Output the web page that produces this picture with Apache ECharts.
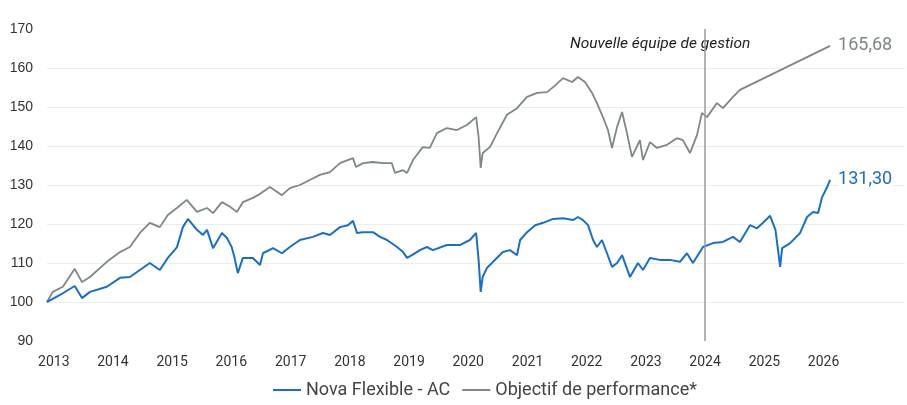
<!DOCTYPE html>
<html>
<head>
<meta charset="utf-8">
<script src="https://cdn.jsdelivr.net/npm/echarts@6/dist/echarts.min.js"></script>
<style>
    html, body { margin: 0; padding: 0; background: #fff; }
    #chart { width: 907px; height: 405px; }
</style>
</head>
<body>
<div id="chart"></div>
<script>
// Nova Flexible - AC (base 100)
const novaDates = [
    '2012-11-20', '2013-02-08', '2013-05-10', '2013-06-24', '2013-08-12', '2013-11-24',
    '2014-02-13', '2014-04-15', '2014-06-16', '2014-08-16', '2014-10-17', '2014-12-05',
    '2015-01-30', '2015-03-08', '2015-04-08', '2015-06-03', '2015-07-10', '2015-08-04',
    '2015-09-10', '2015-11-04', '2015-12-05', '2016-01-04', '2016-01-20', '2016-02-10',
    '2016-03-12', '2016-05-13', '2016-06-26', '2016-07-14', '2016-09-14', '2016-11-08',
    '2016-12-27', '2017-02-27', '2017-05-18', '2017-07-19', '2017-08-31', '2017-11-01',
    '2017-12-20', '2018-01-20', '2018-02-14', '2018-03-23', '2018-05-24', '2018-07-06',
    '2018-08-18', '2018-10-19', '2018-11-25', '2018-12-20', '2019-01-19', '2019-03-09',
    '2019-04-21', '2019-05-28', '2019-08-22', '2019-11-10', '2020-01-11', '2020-02-19',
    '2020-03-05', '2020-03-18', '2020-03-30', '2020-04-25', '2020-06-02', '2020-08-02',
    '2020-09-15', '2020-10-28', '2020-11-16', '2020-12-29', '2021-02-17', '2021-04-07',
    '2021-06-08', '2021-08-08', '2021-10-09', '2021-11-08', '2021-12-09', '2022-01-09',
    '2022-02-09', '2022-03-05', '2022-04-05', '2022-05-06', '2022-06-06', '2022-07-07',
    '2022-08-07', '2022-09-25', '2022-11-13', '2022-12-14', '2023-01-26', '2023-03-28',
    '2023-05-29', '2023-07-30', '2023-09-11', '2023-10-18', '2023-12-19', '2024-02-19',
    '2024-04-20', '2024-06-21', '2024-08-03', '2024-10-04', '2024-11-16', '2024-12-23',
    '2025-02-05', '2025-03-10', '2025-04-08', '2025-04-20', '2025-06-09', '2025-08-09',
    '2025-09-21', '2025-10-28', '2025-11-28', '2025-12-23', '2026-01-23', '2026-02-10'
];
const novaValues = [
    100, 101.8, 104.1, 101, 102.6, 103.9,
    106.2, 106.4, 108.2, 110, 108.2, 111.3,
    114, 119.2, 121.3, 118.5, 117.2, 118.5,
    113.8, 117.7, 116.4, 114, 111.5, 107.4,
    111.3, 111.3, 109.5, 112.5, 113.8, 112.5,
    114.1, 115.9, 116.7, 117.7, 117.2, 119.2,
    119.7, 120.8, 117.7, 117.9, 117.9, 116.7,
    115.9, 114.1, 112.8, 111.3, 112, 113.3,
    114.1, 113.3, 114.6, 114.6, 115.9, 117.7,
    110.8, 102.6, 106.4, 108.7, 110.3, 112.8,
    113.3, 112, 115.9, 117.9, 119.7, 120.3,
    121.3, 121.5, 121, 121.8, 121, 119.7,
    115.9, 114.1, 115.9, 112.5, 109, 110,
    112, 106.4, 110, 108.2, 111.3, 110.8,
    110.8, 110.3, 112.5, 110, 114.1, 115.1,
    115.4, 116.7, 115.4, 119.7, 118.9, 120.3,
    122.1, 118.5, 109, 113.8, 115.1, 117.7,
    121.8, 123.1, 122.8, 126.9, 129.5, 131.3
];

// Objectif de performance* (base 100)
const objDates = [
    '2012-11-20', '2012-12-25', '2013-02-26', '2013-05-10', '2013-06-24', '2013-08-12',
    '2013-11-24', '2014-02-13', '2014-04-15', '2014-06-16', '2014-08-16', '2014-10-17',
    '2014-12-05', '2015-01-30', '2015-04-01', '2015-06-03', '2015-08-04', '2015-09-10',
    '2015-11-04', '2015-12-22', '2016-02-04', '2016-03-12', '2016-05-13', '2016-06-13',
    '2016-08-26', '2016-11-08', '2016-12-27', '2017-02-27', '2017-04-29', '2017-06-30',
    '2017-08-31', '2017-11-01', '2018-01-20', '2018-02-08', '2018-03-23', '2018-05-24',
    '2018-07-24', '2018-09-17', '2018-10-06', '2018-11-25', '2018-12-20', '2019-01-25',
    '2019-03-27', '2019-05-09', '2019-06-22', '2019-08-22', '2019-10-23', '2019-12-24',
    '2020-02-19', '2020-03-05', '2020-03-18', '2020-03-30', '2020-05-14', '2020-06-27',
    '2020-08-27', '2020-10-28', '2020-12-29', '2021-03-01', '2021-05-01', '2021-06-08',
    '2021-08-08', '2021-10-03', '2021-11-08', '2021-12-21', '2022-02-03', '2022-03-05',
    '2022-04-11', '2022-05-12', '2022-06-06', '2022-07-07', '2022-08-07', '2022-09-06',
    '2022-10-07', '2022-11-25', '2022-12-14', '2023-01-26', '2023-03-10', '2023-05-11',
    '2023-07-11', '2023-08-17', '2023-09-30', '2023-11-12', '2023-12-13', '2024-01-13',
    '2024-03-14', '2024-04-20', '2024-06-21', '2024-08-03', '2026-02-10'
];
const objValues = [
    100, 102.6, 103.9, 108.5, 105.1, 106.4,
    110.3, 112.8, 114.1, 117.7, 120.3, 119.2,
    122.3, 124.1, 126.2, 123.1, 124.1, 122.8,
    125.6, 124.5, 123.1, 125.6, 126.7, 127.4,
    129.5, 127.4, 129.2, 130, 131.3, 132.6,
    133.3, 135.6, 136.9, 134.6, 135.6, 135.9,
    135.6, 135.6, 133.1, 133.8, 133.1, 136.4,
    139.7, 139.5, 143.3, 144.6, 144.1, 145.4,
    147.4, 142.3, 134.4, 138.2, 139.7, 143.3,
    148, 149.7, 152.6, 153.6, 153.8, 155.1,
    157.4, 156.4, 157.7, 156.4, 153.6, 151,
    147.4, 144.1, 139.5, 144.9, 148.7, 143.3,
    137.2, 141.5, 136.4, 141, 139.5, 140.3,
    142, 141.5, 138.2, 142.8, 148.5, 147.4,
    151, 149.7, 152.6, 154.4, 165.68
];

const yTicks = [90, 170, 10];       // min, max, interval
const teamChangeDate = '2024-01-01';
const teamChangeText = 'Nouvelle équipe de gestion';

const blue = '#1b6fbd';
const grey = '#7d8785';

function pairs(dates, values) {
    return dates.map(function (d, i) { return [d, values[i]]; });
}

function frNumber(v) {
    return v.toFixed(2).replace('.', ',');
}

let myChart = echarts.init(document.getElementById('chart'));

const option = {
    animation: false,
    grid: {
        left: 47,
        right: 2,
        top: 29,
        bottom: 64
    },
    legend: {
        bottom: 1,
        left: 268,
        icon: 'rect',
        itemWidth: 28,
        itemHeight: 2,
        itemGap: 12,
        textStyle: {
            fontFamily: 'Roboto',
            fontSize: 18,
            color: '#444'
        },
        data: ['Nova Flexible - AC', 'Objectif de performance*']
    },
    xAxis: {
        type: 'time',
        min: '2012-11-20',
        max: '2027-05-18',
        minInterval: 365 * 24 * 3600 * 1000,
        splitNumber: 15,
        axisLine: { show: false },
        axisTick: { show: false },
        splitLine: { show: false },
        axisLabel: {
            fontFamily: 'Roboto',
            fontSize: 14,
            color: '#333',
            margin: 14,
            hideOverlap: false,
            formatter: function (value) {
                let y = new Date(value).getFullYear();
                return y > 2026 ? '' : String(y);
            }
        }
    },
    yAxis: {
        type: 'value',
        min: yTicks[0],
        max: yTicks[1],
        interval: yTicks[2],
        axisLine: { show: false },
        axisTick: { show: false },
        axisLabel: {
            fontFamily: 'Liberation Sans',
            fontSize: 14,
            color: '#333',
            margin: 14
        },
        splitLine: {
            show: true,
            showMinLine: false,
            showMaxLine: false,
            lineStyle: { color: '#ececec', width: 1 }
        }
    },
    graphic: [
        {
            type: 'text',
            left: 570,
            top: 36,
            style: {
                text: teamChangeText,
                fontFamily: 'Roboto',
                fontStyle: 'italic',
                fontSize: 15.5,
                fill: '#222'
            }
        }
    ],
    series: [
        {
            name: 'Objectif de performance*',
            type: 'line',
            data: pairs(objDates, objValues),
            showSymbol: false,
            symbol: 'none',
            color: grey,
            lineStyle: { width: 1.8, color: grey },
            endLabel: {
                show: true,
                formatter: function (p) { return frNumber(p.value[1]); },
                fontFamily: 'Roboto',
                fontSize: 18,
                color: grey,
                distance: 8,
                backgroundColor: '#fff'
            },
            z: 2
        },
        {
            name: 'Nova Flexible - AC',
            type: 'line',
            data: pairs(novaDates, novaValues),
            showSymbol: false,
            symbol: 'none',
            color: blue,
            lineStyle: { width: 2, color: blue },
            endLabel: {
                show: true,
                formatter: function (p) { return frNumber(p.value[1]); },
                fontFamily: 'Roboto',
                fontSize: 18,
                color: blue,
                distance: 8,
                backgroundColor: '#fff'
            },
            markLine: {
                silent: true,
                symbol: 'none',
                label: { show: false },
                lineStyle: { color: '#9a9a9a', width: 1.5, type: 'solid' },
                data: [{ xAxis: teamChangeDate }]
            },
            z: 3
        }
    ]
};

myChart.setOption(option);
</script>
</body>
</html>
